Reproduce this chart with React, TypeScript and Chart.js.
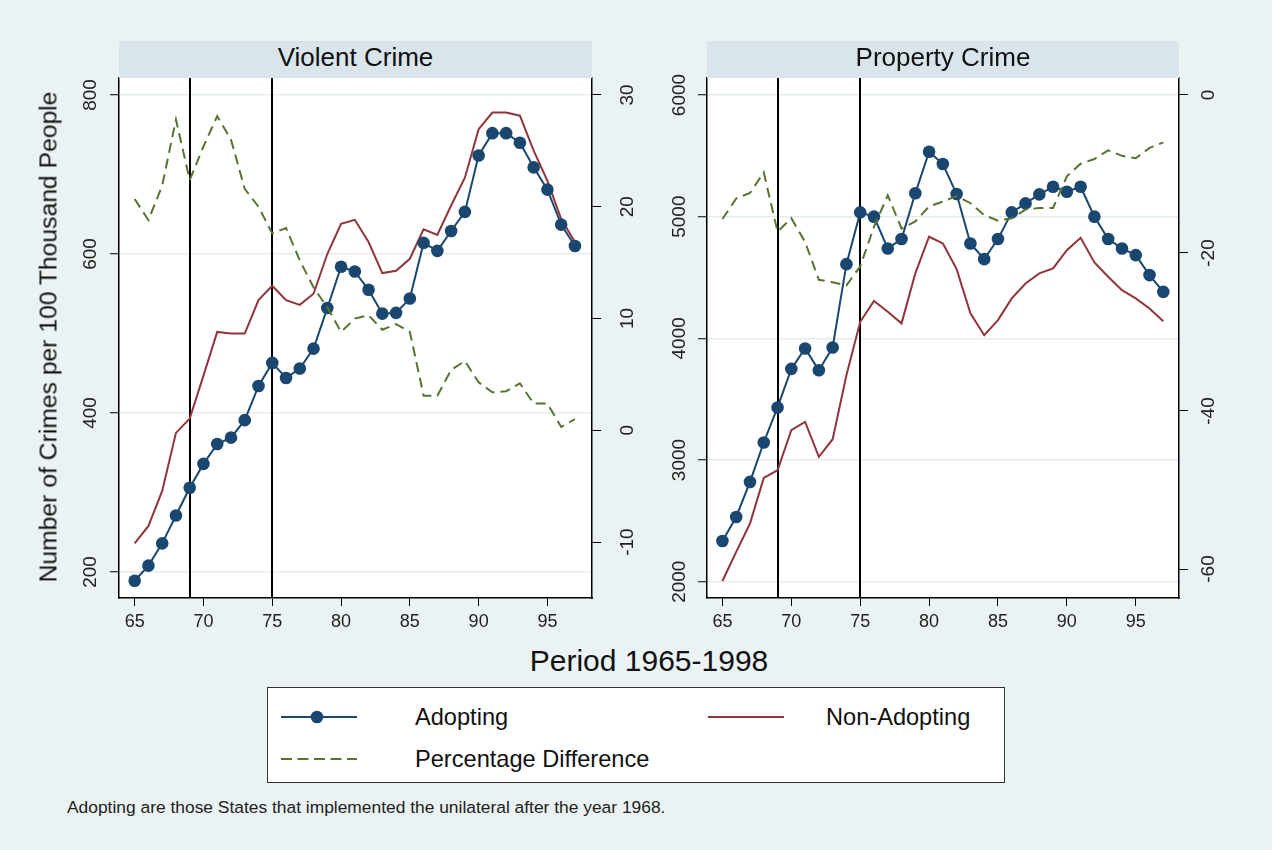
import React, { useEffect, useRef } from 'react';
import { Chart, registerables } from 'chart.js';

Chart.register(...registerables);

const FONT = "'Liberation Sans', Arial, Helvetica, sans-serif";

// ---- data ----
const years = [65, 66, 67, 68, 69, 70, 71, 72, 73, 74, 75, 76, 77, 78, 79, 80, 81, 82, 83, 84, 85, 86, 87, 88, 89, 90, 91, 92, 93, 94, 95, 96, 97];

const violentAdopting = [189, 208, 236, 271, 306, 336, 361, 369, 391, 434, 463, 444, 456, 481, 532, 584, 578, 555, 525, 526, 544, 614, 604, 629, 653, 724, 752, 752, 740, 709, 681, 637, 610];
const violentNonAdopting = [236, 258, 302, 375, 393, 447, 502, 500, 500, 542, 560, 542, 536, 550, 600, 638, 643, 615, 576, 579, 594, 631, 624, 661, 696, 757, 778, 778, 774, 730, 692, 644, 615];
const violentPctDiff = [20.7, 18.8, 21.9, 27.8, 22.4, 25.4, 28.1, 26.0, 21.6, 20.0, 17.6, 18.1, 15.2, 12.8, 11.0, 8.8, 10.0, 10.3, 9.0, 9.5, 8.8, 3.1, 3.1, 5.4, 6.2, 4.3, 3.4, 3.5, 4.2, 2.4, 2.4, 0.3, 1.0];

const propertyAdopting = [2335, 2532, 2820, 3144, 3432, 3749, 3917, 3738, 3925, 4610, 5035, 5000, 4739, 4816, 5192, 5534, 5433, 5186, 4780, 4651, 4816, 5035, 5109, 5183, 5246, 5205, 5246, 5000, 4816, 4739, 4684, 4520, 4382];
const propertyNonAdopting = [2006, 2245, 2478, 2853, 2916, 3245, 3313, 3026, 3171, 3697, 4136, 4308, 4218, 4123, 4534, 4835, 4780, 4569, 4205, 4026, 4150, 4328, 4451, 4534, 4575, 4725, 4826, 4624, 4506, 4396, 4328, 4246, 4141];
const propertyPctDiff = [-15.7, -13.1, -12.4, -9.8, -17.3, -15.6, -18.6, -23.4, -23.7, -24.1, -21.7, -16.7, -12.7, -16.9, -16.0, -14.1, -13.5, -12.8, -13.7, -15.2, -15.9, -15.6, -14.5, -14.3, -14.3, -10.3, -8.7, -8.1, -7.0, -7.7, -8.0, -6.7, -6.0];

const xTicks = [65, 70, 75, 80, 85, 90, 95];
const violentLeftTicks = [200, 400, 600, 800];
const violentRightTicks = [-10, 0, 10, 20, 30];
const propertyLeftTicks = [2000, 3000, 4000, 5000, 6000];
const propertyRightTicks = [-60, -40, -20, 0];
const eventYears = [69, 75];

const panelTitles = ['Violent Crime', 'Property Crime'];
const seriesNames = ['Adopting', 'Non-Adopting', 'Percentage Difference'];
const yTitle = 'Number of Crimes per 100 Thousand People';
const xTitle = 'Period 1965-1998';
const footnote = 'Adopting are those States that implemented the unilateral after the year 1968.';

// ---- styles ----
const NAVY = '#1A476F';
const MAROON = '#90353B';
const GREEN = '#55752F';
const BG = '#EAF2F3';
const STRIP = '#D9E5EB';
const GRID = '#E3EDF0';

const plotBg = {
  id: 'plotBg',
  beforeDraw(chart: any) {
    const { ctx, chartArea } = chart;
    ctx.save();
    ctx.fillStyle = '#ffffff';
    ctx.fillRect(chartArea.left, chartArea.top, chartArea.right - chartArea.left, chartArea.bottom - chartArea.top);
    ctx.restore();
  },
};

const eventLines = {
  id: 'eventLines',
  beforeDatasetsDraw(chart: any, _args: any, opts: any) {
    const { ctx, chartArea } = chart;
    const xs = chart.scales.x;
    ctx.save();
    ctx.strokeStyle = '#000';
    ctx.lineWidth = 2;
    for (const v of opts.values || []) {
      const x = Math.round(xs.getPixelForValue(v));
      ctx.beginPath();
      ctx.moveTo(x, chartArea.top);
      ctx.lineTo(x, chartArea.bottom);
      ctx.stroke();
    }
    ctx.restore();
  },
};

const rotatedYLabels = {
  id: 'rotatedYLabels',
  afterDraw(chart: any, _args: any, opts: any) {
    const ctx = chart.ctx;
    ctx.save();
    ctx.fillStyle = '#222';
    ctx.font = `${opts.size}px ${FONT}`;
    ctx.textAlign = 'center';
    ctx.textBaseline = 'middle';
    for (const item of opts.items || []) {
      const scale = chart.scales[item.scaleId];
      const x = item.side === 'left' ? scale.right - item.offset : scale.left + item.offset;
      for (const t of scale.ticks) {
        const y = scale.getPixelForValue(t.value);
        ctx.save();
        ctx.translate(x, y);
        ctx.rotate(-Math.PI / 2);
        ctx.fillText(String(t.value), 0, 0);
        ctx.restore();
      }
    }
    ctx.restore();
  },
};

type PanelProps = {
  left: number;
  width: number;
  leftAxisWidth: number;
  rightAxisWidth: number;
  adopting: number[];
  nonAdopting: number[];
  pct: number[];
  xMin: number;
  xMax: number;
  yLMin: number;
  yLMax: number;
  yRMin: number;
  yRMax: number;
  leftTicks: number[];
  rightTicks: number[];
  leftLabelOffset: number;
  rightLabelOffset: number;
};

// canvas spans y 40..640; plot area spans y 78..598
const CANVAS_TOP = 40;
const CANVAS_H = 600;
const PLOT_TOP_PAD = 38;
const X_AXIS_H = 42;

function Panel(p: PanelProps) {
  const ref = useRef<HTMLCanvasElement | null>(null);
  useEffect(() => {
    if (!ref.current) return;
    const toPts = (arr: number[]) => years.map((yr, i) => ({ x: yr, y: arr[i] }));
    const chart = new Chart(ref.current, {
      type: 'line',
      data: {
        datasets: [
          {
            label: seriesNames[2],
            data: toPts(p.pct),
            yAxisID: 'yR',
            borderColor: GREEN,
            borderWidth: 2,
            borderDash: [10, 6],
            pointRadius: 0,
            fill: false,
            tension: 0,
          },
          {
            label: seriesNames[0],
            data: toPts(p.adopting),
            yAxisID: 'yL',
            borderColor: NAVY,
            borderWidth: 2,
            pointRadius: 6.3,
            pointBackgroundColor: NAVY,
            pointBorderColor: NAVY,
            pointBorderWidth: 0,
            fill: false,
            tension: 0,
          },
          {
            label: seriesNames[1],
            data: toPts(p.nonAdopting),
            yAxisID: 'yL',
            borderColor: MAROON,
            borderWidth: 2,
            pointRadius: 0,
            fill: false,
            tension: 0,
          },
        ],
      },
      options: {
        responsive: false,
        animation: false,
        devicePixelRatio: 1,
        layout: { padding: { top: PLOT_TOP_PAD, left: 0, right: 0, bottom: 0 }, autoPadding: false },
        plugins: {
          legend: { display: false },
          tooltip: { enabled: false },
          eventLines: { values: eventYears },
          rotatedYLabels: {
            size: 19,
            items: [
              { scaleId: 'yL', side: 'left', offset: p.leftLabelOffset },
              { scaleId: 'yR', side: 'right', offset: p.rightLabelOffset },
            ],
          },
        } as any,
        scales: {
          x: {
            type: 'linear',
            position: 'bottom',
            min: p.xMin,
            max: p.xMax,
            afterBuildTicks: (s: any) => {
              s.ticks = xTicks.map((v) => ({ value: v }));
            },
            afterFit: (s: any) => {
              s.height = X_AXIS_H;
            },
            grid: { drawOnChartArea: false, drawTicks: true, tickLength: 8, tickColor: '#000', tickWidth: 1 },
            border: { color: '#000', width: 1.5 },
            ticks: {
              color: '#222',
              font: { family: FONT, size: 18 },
              padding: 5,
              autoSkip: false,
              maxRotation: 0,
              minRotation: 0,
              callback: (v: any) => String(v),
            },
          },
          yL: {
            type: 'linear',
            position: 'left',
            min: p.yLMin,
            max: p.yLMax,
            afterBuildTicks: (s: any) => {
              s.ticks = p.leftTicks.map((v) => ({ value: v }));
            },
            afterFit: (s: any) => {
              s.width = p.leftAxisWidth;
            },
            grid: { color: GRID, lineWidth: 1.5, drawTicks: true, tickLength: 9, tickColor: '#000', tickWidth: 1 },
            border: { color: '#000', width: 1.5 },
            ticks: { display: false },
          },
          yR: {
            type: 'linear',
            position: 'right',
            min: p.yRMin,
            max: p.yRMax,
            afterBuildTicks: (s: any) => {
              s.ticks = p.rightTicks.map((v) => ({ value: v }));
            },
            afterFit: (s: any) => {
              s.width = p.rightAxisWidth;
            },
            grid: { drawOnChartArea: false, drawTicks: true, tickLength: 9, tickColor: '#000', tickWidth: 1 },
            border: { color: '#000', width: 1.5 },
            ticks: { display: false },
          },
        },
      } as any,
      plugins: [plotBg, eventLines, rotatedYLabels],
    });
    return () => chart.destroy();
  }, []);
  return (
    <canvas
      ref={ref}
      width={p.width}
      height={CANVAS_H}
      style={{ position: 'absolute', left: p.left, top: CANVAS_TOP, width: p.width, height: CANVAS_H }}
    />
  );
}

function LegendLine({ color, dashed, marker }: { color: string; dashed?: boolean; marker?: boolean }) {
  return (
    <svg width={76} height={16} style={{ display: 'block' }}>
      <line x1={0} y1={8} x2={76} y2={8} stroke={color} strokeWidth={2} strokeDasharray={dashed ? '11 5.5' : undefined} />
      {marker ? <circle cx={36} cy={8} r={6.3} fill={color} /> : null}
    </svg>
  );
}

const abs = (l: number, t: number, extra: React.CSSProperties = {}): React.CSSProperties => ({
  position: 'absolute',
  left: l,
  top: t,
  ...extra,
});

export default function App() {
  const textColor = '#111';
  return (
    <div
      style={{
        position: 'absolute',
        left: 0,
        top: 0,
        width: 1272,
        height: 850,
        background: BG,
        overflow: 'hidden',
        fontFamily: FONT,
        color: textColor,
      }}
    >
      <Panel
        left={0}
        width={640}
        leftAxisWidth={119}
        rightAxisWidth={48}
        adopting={violentAdopting}
        nonAdopting={violentNonAdopting}
        pct={violentPctDiff}
        xMin={63.86}
        xMax={98.24}
        yLMin={167.3}
        yLMax={821.4}
        yRMin={-15.0}
        yRMax={31.52}
        leftTicks={violentLeftTicks}
        rightTicks={violentRightTicks}
        leftLabelOffset={28}
        rightLabelOffset={36}
      />
      <Panel
        left={640}
        width={600}
        leftAxisWidth={67}
        rightAxisWidth={61}
        adopting={propertyAdopting}
        nonAdopting={propertyNonAdopting}
        pct={propertyPctDiff}
        xMin={63.88}
        xMax={98.14}
        yLMin={1866}
        yLMax={6139.7}
        yRMin={-63.67}
        yRMax={2.15}
        leftTicks={propertyLeftTicks}
        rightTicks={propertyRightTicks}
        leftLabelOffset={27}
        rightLabelOffset={30}
      />

      {/* strips (drawn over the canvases' top padding) */}
      <div style={abs(119, 41, { width: 473, height: 37, background: STRIP })} />
      <div style={abs(707, 41, { width: 472, height: 37, background: STRIP })} />
      <div style={abs(355.5, 57, { transform: 'translate(-50%, -50%)', fontSize: 26, lineHeight: '26px', whiteSpace: 'nowrap' })}>
        {panelTitles[0]}
      </div>
      <div style={abs(943, 57, { transform: 'translate(-50%, -50%)', fontSize: 26, lineHeight: '26px', whiteSpace: 'nowrap' })}>
        {panelTitles[1]}
      </div>

      {/* y title */}
      <div
        style={abs(48, 337, {
          transform: 'translate(-50%, -50%) rotate(-90deg)',
          fontSize: 24.7,
          lineHeight: '25px',
          whiteSpace: 'nowrap',
        })}
      >
        {yTitle}
      </div>

      {/* x title */}
      <div style={abs(649, 661, { transform: 'translate(-50%, -50%)', fontSize: 30, lineHeight: '30px', whiteSpace: 'nowrap' })}>
        {xTitle}
      </div>

      {/* legend */}
      <div
        style={abs(267, 687, {
          width: 738,
          height: 96,
          background: '#fff',
          border: '1px solid #333',
          boxSizing: 'border-box',
        })}
      >
        <div style={abs(13, 21)}>
          <LegendLine color={NAVY} marker />
        </div>
        <div style={abs(147, 29, { transform: 'translateY(-50%)', fontSize: 23.6, lineHeight: '24px', whiteSpace: 'nowrap' })}>
          {seriesNames[0]}
        </div>
        <div style={abs(440, 21)}>
          <LegendLine color={MAROON} />
        </div>
        <div style={abs(558, 29, { transform: 'translateY(-50%)', fontSize: 23.6, lineHeight: '24px', whiteSpace: 'nowrap' })}>
          {seriesNames[1]}
        </div>
        <div style={abs(13, 63)}>
          <LegendLine color={GREEN} dashed />
        </div>
        <div style={abs(147, 71, { transform: 'translateY(-50%)', fontSize: 23.6, lineHeight: '24px', whiteSpace: 'nowrap' })}>
          {seriesNames[2]}
        </div>
      </div>

      {/* footnote */}
      <div style={abs(67, 807, { transform: 'translateY(-50%)', fontSize: 17.4, lineHeight: '18px', whiteSpace: 'nowrap', color: '#222' })}>
        {footnote}
      </div>
    </div>
  );
}
